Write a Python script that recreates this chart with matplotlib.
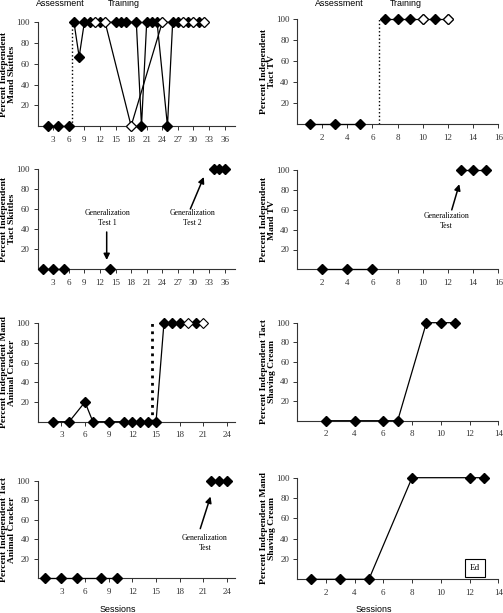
import matplotlib
matplotlib.use("Agg")
import matplotlib.pyplot as plt

# ---- data (sessions, percent independent) ----
# Mand Skittles
mand_sk_assess_x = [2, 4, 6]
mand_sk_assess_y = [0, 0, 0]
mand_sk_train_x = [7, 8, 9, 10, 12, 15, 16, 17, 19, 20, 21, 22, 23, 25, 26, 27, 29, 31]
mand_sk_train_y = [100, 66.7, 100, 100, 100, 100, 100, 100, 100, 0, 100, 100, 100, 0, 100, 100, 100, 100]
mand_sk_probe_x = [11, 13, 18, 24, 28, 30, 32]
mand_sk_probe_y = [100, 100, 0, 100, 100, 100, 100]
mand_sk_phase = 6.7

# Tact TV
tact_tv_assess_x = [1, 3, 5]
tact_tv_assess_y = [0, 0, 0]
tact_tv_train_x = [7, 8, 9, 10, 11, 12]
tact_tv_train_y = [100, 100, 100, 100, 100, 100]
tact_tv_probe_x = [10, 12]
tact_tv_probe_y = [100, 100]
tact_tv_phase = 6.5

# Tact Skittles
tact_sk_x1 = [1, 3, 5]
tact_sk_y1 = [0, 0, 0]
tact_sk_x2 = [14]
tact_sk_y2 = [0]
tact_sk_x3 = [34, 35, 36]
tact_sk_y3 = [100, 100, 100]

# Mand TV
mand_tv_x1 = [2, 4, 6]
mand_tv_y1 = [0, 0, 0]
mand_tv_x2 = [13, 14, 15]
mand_tv_y2 = [100, 100, 100]

# Mand Animal Cracker
mand_ac_x = [2, 4, 6, 7, 9, 11, 12, 13, 14, 15, 16, 17, 18, 20]
mand_ac_y = [0, 0, 20, 0, 0, 0, 0, 0, 0, 0, 100, 100, 100, 100]
mand_ac_probe_x = [19, 21]
mand_ac_probe_y = [100, 100]
mand_ac_phase = 14.5

# Tact Shaving Cream
tact_sc_x = [2, 4, 6, 7, 9, 10, 11]
tact_sc_y = [0, 0, 0, 0, 100, 100, 100]

# Tact Animal Cracker
tact_ac_x1 = [1, 3, 5, 8, 10]
tact_ac_y1 = [0, 0, 0, 0, 0]
tact_ac_x2 = [22, 23, 24]
tact_ac_y2 = [100, 100, 100]

# Mand Shaving Cream
mand_sc_x = [1, 3, 5, 8, 12, 13]
mand_sc_y = [0, 0, 0, 100, 100, 100]

plt.rcParams['font.family'] = ['Liberation Serif', 'DejaVu Serif']

W, H = 503, 613
fig = plt.figure(figsize=(W / 100, H / 100), dpi=100)


def make_ax(l, r, t, b, xmax, xticks, ylabel, lab_x):
    ax = fig.add_axes([l / W, 1 - b / H, (r - l) / W, (b - t) / H])
    ax.set_xlim(0, xmax)
    ax.set_ylim(0, 100)
    ax.set_xticks(xticks)
    ax.set_yticks([20, 40, 60, 80, 100])
    for s in ['top', 'right']:
        ax.spines[s].set_visible(False)
    for s in ['left', 'bottom']:
        ax.spines[s].set_linewidth(0.8)
        ax.spines[s].set_color('#333333')
    ax.tick_params(direction='out', length=3, width=0.7, labelsize=6.5,
                   colors='#333333', pad=2.5)
    ax.tick_params(axis='x', pad=4)
    ax.set_ylabel(ylabel, fontsize=6.8, fontweight='bold', linespacing=1.05)
    ax.yaxis.set_label_coords(lab_x, 0.5)
    return ax


def filled(ax, x, y, line=True):
    ax.plot(x, y, color='black', lw=0.9, ls='-' if line else 'none',
            marker='D', ms=5.5, mfc='black', mec='black', clip_on=False, zorder=3)


def hollow(ax, x, y, line=True):
    ax.plot(x, y, color='black', lw=0.9, ls='-' if line else 'none',
            marker='D', ms=5.5, mfc='white', mec='black', mew=0.8,
            clip_on=False, zorder=4)


def phase(ax, x, lw=1.0):
    ax.plot([x, x], [0, 100], color='black', ls=':', lw=lw, zorder=2)


def note(ax, txt, pos, tail, tip):
    ax.text(pos[0], pos[1], txt, fontsize=5.6, ha='center', va='center',
            linespacing=1.3)
    ax.annotate('', xy=tip, xytext=tail,
                arrowprops=dict(arrowstyle='-|>', lw=1.1, color='black',
                                mutation_scale=9, shrinkA=0, shrinkB=0))


L0, L1 = 37.6, 235
R0, R1 = 297, 498.3
LX, RX = -0.108, -0.105
lt3 = [3, 6, 9, 12, 15, 18, 21, 24, 27, 30, 33, 36]
lt2 = [3, 6, 9, 12, 15, 18, 21, 24]

# row 1
ax = make_ax(L0, L1, 22.3, 126, 38, lt3, 'Percent Independent\nMand Skittles', LX)
filled(ax, mand_sk_assess_x, mand_sk_assess_y)
hollow(ax, mand_sk_probe_x, mand_sk_probe_y)
filled(ax, mand_sk_train_x, mand_sk_train_y)
hollow(ax, mand_sk_probe_x, mand_sk_probe_y, line=False)
phase(ax, mand_sk_phase)

ax = make_ax(R0, R1, 19, 124.3, 16, range(2, 17, 2), 'Percent Independent\nTact TV', RX)
filled(ax, tact_tv_assess_x, tact_tv_assess_y)
filled(ax, tact_tv_train_x, tact_tv_train_y)
hollow(ax, tact_tv_probe_x, tact_tv_probe_y, line=False)
phase(ax, tact_tv_phase)

# row 2
ax = make_ax(L0, L1, 169, 269, 38, lt3, 'Percent Independent\nTact Skittles', LX)
filled(ax, tact_sk_x1, tact_sk_y1)
filled(ax, tact_sk_x2, tact_sk_y2)
filled(ax, tact_sk_x3, tact_sk_y3)
note(ax, 'Generalization\nTest 1', (13.4, 51), (13.3, 37), (13.3, 9))
note(ax, 'Generalization\nTest 2', (29.8, 51), (29.4, 60), (32.0, 92))

ax = make_ax(R0, R1, 170.3, 269.3, 16, range(2, 17, 2), 'Percent Independent\nMand TV', RX)
filled(ax, mand_tv_x1, mand_tv_y1)
filled(ax, mand_tv_x2, mand_tv_y2)
note(ax, 'Generalization\nTest', (11.9, 49), (12.3, 60), (12.9, 86))

# row 3
ax = make_ax(L0, L1, 323.3, 421.7, 25, lt2, 'Percent Independent Mand\nAnimal Cracker', LX)
filled(ax, mand_ac_x, mand_ac_y)
hollow(ax, mand_ac_probe_x, mand_ac_probe_y, line=False)
phase(ax, mand_ac_phase, lw=2.0)

ax = make_ax(R0, R1, 322.7, 420.7, 14, range(2, 15, 2), 'Percent Independent Tact\nShaving Cream', RX)
filled(ax, tact_sc_x, tact_sc_y)

# row 4
ax = make_ax(L0, L1, 481, 578.3, 25, lt2, 'Percent Independent Tact\nAnimal Cracker', LX)
filled(ax, tact_ac_x1, tact_ac_y1)
filled(ax, tact_ac_x2, tact_ac_y2)
note(ax, 'Generalization\nTest', (21.2, 36), (20.6, 51), (21.9, 84))

ax = make_ax(R0, R1, 477.7, 579.3, 14, range(2, 15, 2), 'Percent Independent Mand\nShaving Cream', RX)
filled(ax, mand_sc_x, mand_sc_y)
ax.text(12.4, 11, 'Ed', fontsize=6.5, ha='center', va='center',
        bbox=dict(boxstyle='square,pad=0.55', fc='white', ec='black', lw=0.8))

# phase and axis titles
sans = ['Liberation Sans', 'DejaVu Sans']
for x, t in [(60, 'Assessment'), (124, 'Training'), (339, 'Assessment'), (405.7, 'Training')]:
    fig.text(x / W, 1 - 4 / H, t, ha='center', va='center', fontsize=6.4, family=sans)
for x in [117.3, 374]:
    fig.text(x / W, 1 - 609 / H, 'Sessions', ha='center', va='center', fontsize=6.4, family=sans)

fig.savefig('out.png', dpi=100)
